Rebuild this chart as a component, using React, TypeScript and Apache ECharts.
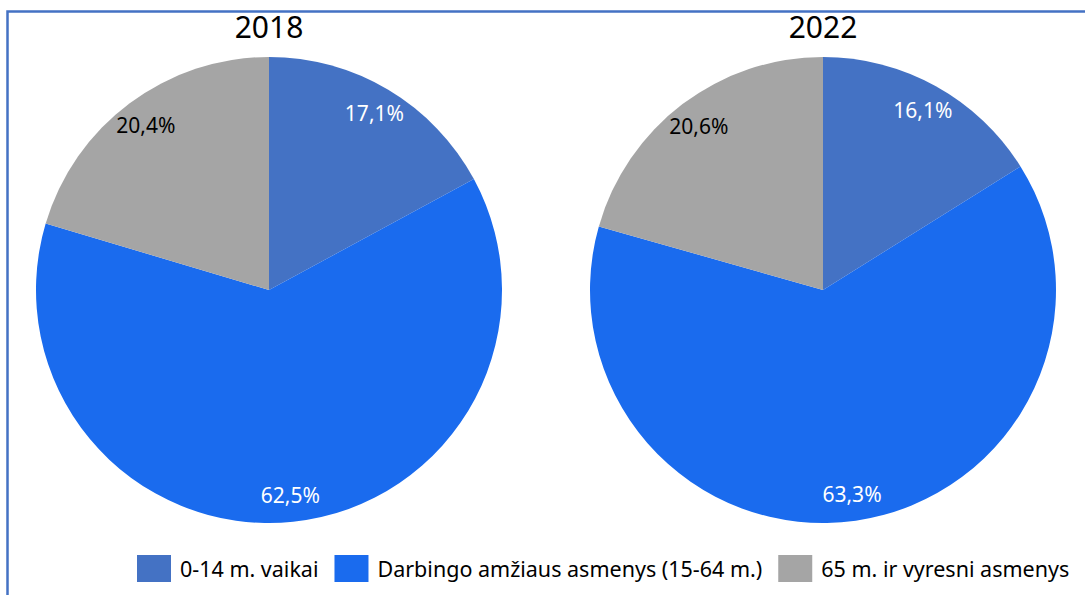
import React, { useEffect, useRef } from 'react';
import * as echarts from 'echarts';

const years = ['2018', '2022'];
const categories = ['0-14 m. vaikai', 'Darbingo amžiaus asmenys (15-64 m.)', '65 m. ir vyresni asmenys'];
const values2018 = [17.1, 62.5, 20.4];
const values2022 = [16.1, 63.3, 20.6];
const sliceColors = ['#4472C4', '#1A6BEE', '#A5A5A5'];
const labelColors = ['#FFFFFF', '#FFFFFF', '#000000'];

const FONT = "'Noto Sans', sans-serif";
const centers = [[269, 290], [823, 290]];
const R = 233;

function fmt(v: number) {
  return v.toFixed(1).replace('.', ',') + '%';
}

function buildData(values: number[], withLabel: boolean) {
  return values.map((v, i) => ({
    name: categories[i],
    value: v,
    itemStyle: { color: withLabel ? 'rgba(0,0,0,0)' : sliceColors[i] },
    label: withLabel
      ? { show: true, position: 'inside', color: labelColors[i], fontSize: 21, fontFamily: FONT, formatter: fmt(v) }
      : { show: false },
  }));
}

export default function App() {
  const ref = useRef<HTMLDivElement>(null);
  useEffect(() => {
    if (!ref.current) return;
    const chart = echarts.init(ref.current, undefined, { renderer: 'svg' });
    const allValues = [values2018, values2022];
    const series: any[] = [];
    allValues.forEach((vals, k) => {
      series.push({
        type: 'pie',
        center: centers[k],
        radius: [0, R],
        startAngle: 90,
        clockwise: true,
        silent: true,
        label: { show: false },
        labelLine: { show: false },
        itemStyle: { borderWidth: 0 },
        data: buildData(vals, false),
      });
    });
    allValues.forEach((vals, k) => {
      series.push({
        type: 'pie',
        center: centers[k],
        radius: [190, 216],
        startAngle: 90,
        clockwise: true,
        silent: true,
        labelLine: { show: false },
        itemStyle: { borderWidth: 0 },
        data: buildData(vals, true),
      });
    });
    chart.setOption({
      animation: false,
      backgroundColor: '#FFFFFF',
      legend: {
        left: 132,
        top: 550,
        icon: 'rect',
        itemWidth: 34,
        itemHeight: 27,
        itemGap: 16,
        selectedMode: false,
        textStyle: { fontSize: 21.5, fontFamily: FONT, color: '#000000', padding: [0, 0, 0, 4] },
        data: categories.map((c, i) => ({ name: c, itemStyle: { color: sliceColors[i] } })),
      },
      graphic: [
        {
          type: 'rect',
          shape: { x: 7.5, y: 11.5, width: 1200, height: 700 },
          style: { fill: 'none', stroke: '#4472C4', lineWidth: 2.5 },
          silent: true,
        },
        ...years.map((y, k) => ({
          type: 'text',
          x: centers[k][0],
          y: 26,
          style: {
            text: y,
            fontSize: 30,
            fontFamily: FONT,
            fill: '#000000',
            textAlign: 'center',
            textVerticalAlign: 'middle',
          },
        })),
      ],
      series,
    });
    return () => chart.dispose();
  }, []);
  return (
    <div
      ref={ref}
      style={{ position: 'fixed', left: 0, top: 0, width: 1085, height: 595 }}
    />
  );
}
